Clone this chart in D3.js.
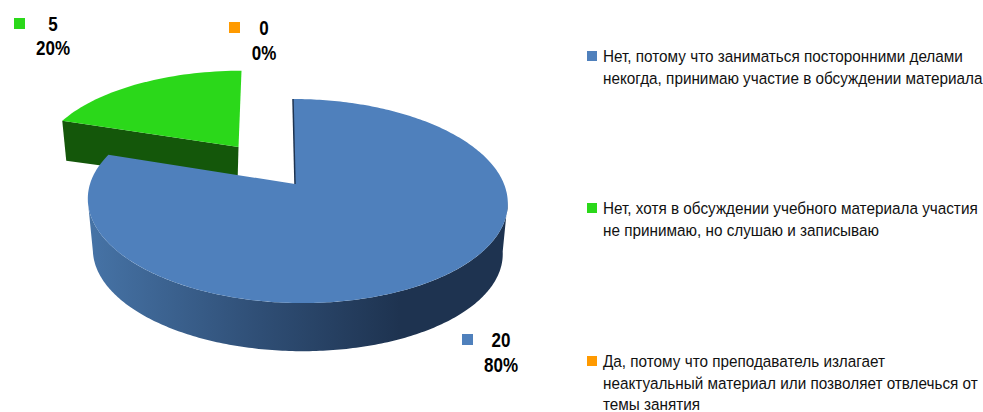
<!DOCTYPE html>
<html>
<head>
<meta charset="utf-8">
<script src="https://cdnjs.cloudflare.com/ajax/libs/d3/7.8.5/d3.min.js"></script>
<style>
  html, body { margin: 0; padding: 0; background: #fff; }
  svg { display: block; }
  text { font-family: "Liberation Sans", sans-serif; fill: #000; }
</style>
</head>
<body>
<div id="chart"></div>
<script>
// Data
var counts = [20, 5, 0];
var percents = ["80%", "20%", "0%"];
var colors = ["#4f80bc", "#2bd81a", "#ff9a00"];
var legendLines = [
  ["Нет, потому что заниматься посторонними делами", "некогда, принимаю участие в обсуждении материала"],
  ["Нет, хотя в обсуждении учебного материала участия", "не принимаю, но слушаю и записываю"],
  ["Да, потому что преподаватель излагает", "неактуальный материал или позволяет отвлечься от", "темы занятия"]
];

// Chart size
var width = 983;
var height = 412;

// Perspective of the tilted pie
var persp = 0.1667;
var blue = { cx: 295, cy: 184, rx: 207, ry: 99.2, lean: 4.7, shift: 2, depth: 51, shrink: 0.976 };
var green = { cx: 238.5, cy: 147, rx: 196, ry: 89, lean: -3.5, shift: 0 };

// Narrow look, no narrow font is installed
var legendSqueeze = 0.9;
var labelSqueeze = 0.85;

// Slice angles
var pie = d3.pie().sort(null).value(function (d) { return d; });
var slices = pie(counts);

// Point on the rim of a slice disc, angle clockwise from the top
function rim(p, a) {
  var u = Math.sin(a);
  var v = -Math.cos(a);
  var w = 1 - persp * v;
  return [p.cx + p.shift + (p.rx * u + p.lean * v) / w, p.cy + p.ry * v / w];
}

function lower(p, a) {
  return rim({
    cx: p.cx, cy: p.cy + p.depth,
    rx: p.rx * p.shrink, ry: p.ry * p.shrink,
    lean: p.lean, shift: p.shift
  }, a);
}

function sweep(start, end, n) {
  return d3.range(n + 1).map(function (i) { return start + (end - start) * i / n; });
}

var line = d3.line();

var svg = d3.select("#chart")
  .append("svg")
  .attr("width", width)
  .attr("height", height);

// Gradient on the outer wall of the big slice
var grad = svg.append("defs").append("linearGradient")
  .attr("id", "wall")
  .attr("gradientUnits", "userSpaceOnUse")
  .attr("x1", 90).attr("y1", 0)
  .attr("x2", 400).attr("y2", 0);
grad.append("stop").attr("offset", 0).attr("stop-color", "#4673a6");
grad.append("stop").attr("offset", 0.55).attr("stop-color", "#2f4e75");
grad.append("stop").attr("offset", 1).attr("stop-color", "#1e3350");

// Green slice, pulled out
var gs = slices[1];
var gLeft = rim(green, gs.startAngle);
var gRim = sweep(gs.startAngle, gs.endAngle, 40).map(function (a) { return rim(green, a); });

svg.append("path")
  .attr("d", line([
    gLeft,
    [green.cx, green.cy],
    [green.cx - 1, green.cy + 37],
    [gLeft[0] + 4, gLeft[1] + 40]
  ]) + "Z")
  .attr("fill", "#14570a");

svg.append("path")
  .attr("d", line([[green.cx, green.cy]].concat(gRim)) + "Z")
  .attr("fill", colors[1]);

// Blue slice, wall only between the two side extremes of the disc
var bs = slices[0];
var sideAngle = Math.acos(-persp);
var front = sweep(Math.max(bs.startAngle, sideAngle), Math.min(bs.endAngle, 2 * Math.PI - sideAngle), 200);
var wallTop = front.map(function (a) { return rim(blue, a); });
var wallLow = front.map(function (a) { return lower(blue, a); }).reverse();

svg.append("path")
  .attr("d", line(wallTop.concat(wallLow)) + "Z")
  .attr("fill", "url(#wall)");

var topRim = sweep(bs.startAngle, bs.endAngle, 300).map(function (a) { return rim(blue, a); });

svg.append("path")
  .attr("d", line([[blue.cx, blue.cy]].concat(topRim)) + "Z")
  .attr("fill", colors[0]);

// Thin dark edge where the cut meets the top
svg.append("path")
  .attr("d", line([[blue.cx, blue.cy], rim(blue, bs.startAngle)]))
  .attr("stroke", "#1e3350")
  .attr("stroke-width", 1.5)
  .attr("fill", "none");

// Data labels
var labelAt = [
  { sx: 462, sy: 334, tx: 501, y1: 347, y2: 372 },
  { sx: 14, sy: 18, tx: 53, y1: 31, y2: 55 },
  { sx: 229, sy: 22, tx: 264, y1: 35, y2: 60 }
];

function labelText(x, y, t) {
  svg.append("text")
    .attr("transform", "translate(" + x + "," + y + ") scale(" + labelSqueeze + ",1)")
    .attr("text-anchor", "middle")
    .attr("font-size", 20).attr("font-weight", "bold")
    .text(t);
}

counts.forEach(function (c, i) {
  var p = labelAt[i];
  svg.append("rect")
    .attr("x", p.sx).attr("y", p.sy)
    .attr("width", 11).attr("height", 11)
    .attr("fill", colors[i]);
  labelText(p.tx, p.y1, c);
  labelText(p.tx, p.y2, percents[i]);
});

// Legend
var legendTop = [51, 203, 356];

legendLines.forEach(function (lines, i) {
  svg.append("rect")
    .attr("x", 587).attr("y", legendTop[i])
    .attr("width", 10).attr("height", 10)
    .attr("fill", colors[i]);
  lines.forEach(function (t, j) {
    svg.append("text")
      .attr("transform", "translate(603," + (legendTop[i] + 11 + j * 21.5) + ") scale(" + legendSqueeze + ",1)")
      .attr("font-size", 17)
      .style("fill", "#111")
      .text(t);
  });
});
</script>
</body>
</html>
